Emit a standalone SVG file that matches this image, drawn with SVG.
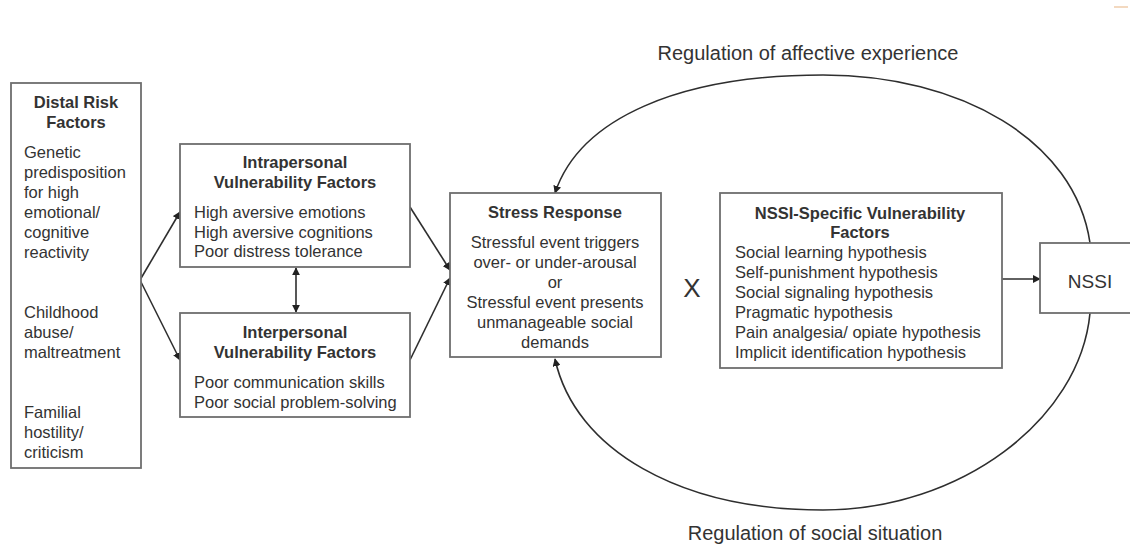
<svg xmlns="http://www.w3.org/2000/svg" width="1130" height="544" viewBox="0 0 1130 544">
<style>
.box{fill:#fff;stroke:#6e6e6e;stroke-width:1.8}
.t{font-family:"Liberation Sans",Arial,sans-serif;font-size:16.5px;fill:#333}
.b{font-weight:bold}
.c{text-anchor:middle}
.ln{fill:none;stroke:#2e2e2e;stroke-width:1.6}
</style>
<defs>
<marker id="ah" viewBox="0 0 10 10" refX="9" refY="5" markerWidth="8" markerHeight="8" markerUnits="userSpaceOnUse" orient="auto-start-reverse">
<path d="M0,0 L10,5 L0,10 z" fill="#222"/>
</marker>
</defs>
<rect width="1130" height="544" fill="#fff"/>
<line x1="1114" y1="7" x2="1128" y2="7" stroke="#f3d9c0" stroke-width="2"/>

<g id="connectors">
<line class="ln" x1="140" y1="280" x2="180" y2="212" marker-end="url(#ah)"/>
<line class="ln" x1="140" y1="280" x2="180" y2="360" marker-end="url(#ah)"/>
<line class="ln" x1="296" y1="268" x2="296" y2="312" marker-start="url(#ah)" marker-end="url(#ah)"/>
<line class="ln" x1="410" y1="207" x2="450" y2="270" marker-end="url(#ah)"/>
<line class="ln" x1="410" y1="360" x2="450" y2="278" marker-end="url(#ah)"/>
<line class="ln" x1="1002" y1="279" x2="1040" y2="279" marker-end="url(#ah)"/>
<path class="ln" d="M1090,243 C1075,140 960,75 823,75 C680,75 580,118 555,193" marker-end="url(#ah)"/>
<path class="ln" d="M1090,313 C1080,420 960,510 823,510 C680,510 575,450 555,359" marker-end="url(#ah)"/>
</g>

<g id="distal">
<rect class="box" x="11" y="83" width="130" height="385"/>
<text class="t b c" x="76" y="108">Distal Risk</text>
<text class="t b c" x="76" y="128">Factors</text>
<text class="t" x="24" y="158">Genetic</text>
<text class="t" x="24" y="178">predisposition</text>
<text class="t" x="24" y="198">for high</text>
<text class="t" x="24" y="218">emotional/</text>
<text class="t" x="24" y="238">cognitive</text>
<text class="t" x="24" y="258">reactivity</text>
<text class="t" x="24" y="318">Childhood</text>
<text class="t" x="24" y="338">abuse/</text>
<text class="t" x="24" y="358">maltreatment</text>
<text class="t" x="24" y="418">Familial</text>
<text class="t" x="24" y="438">hostility/</text>
<text class="t" x="24" y="458">criticism</text>
</g>

<g id="intrapersonal">
<rect class="box" x="180" y="144" width="230" height="123"/>
<text class="t b c" x="295" y="168">Intrapersonal</text>
<text class="t b c" x="295" y="188">Vulnerability Factors</text>
<text class="t" x="194" y="218">High aversive emotions</text>
<text class="t" x="194" y="238">High aversive cognitions</text>
<text class="t" x="194" y="257">Poor distress tolerance</text>
</g>

<g id="interpersonal">
<rect class="box" x="180" y="313" width="230" height="104"/>
<text class="t b c" x="295" y="338">Interpersonal</text>
<text class="t b c" x="295" y="358">Vulnerability Factors</text>
<text class="t" x="194" y="388">Poor communication skills</text>
<text class="t" x="194" y="408">Poor social problem-solving</text>
</g>

<g id="stress">
<rect class="box" x="450" y="193" width="211" height="164"/>
<text class="t b c" x="555" y="218">Stress Response</text>
<text class="t c" x="555" y="248">Stressful event triggers</text>
<text class="t c" x="555" y="268">over- or under-arousal</text>
<text class="t c" x="555" y="288">or</text>
<text class="t c" x="555" y="308">Stressful event presents</text>
<text class="t c" x="555" y="328">unmanageable social</text>
<text class="t c" x="555" y="348">demands</text>
</g>

<g id="times">
<text class="t c" x="692" y="297" style="font-size:26px">X</text>
</g>

<g id="nssi-specific">
<rect class="box" x="720" y="193" width="282" height="175"/>
<text class="t b c" x="860" y="219">NSSI-Specific Vulnerability</text>
<text class="t b c" x="860" y="238">Factors</text>
<text class="t" x="735" y="258">Social learning hypothesis</text>
<text class="t" x="735" y="278">Self-punishment hypothesis</text>
<text class="t" x="735" y="298">Social signaling hypothesis</text>
<text class="t" x="735" y="318">Pragmatic hypothesis</text>
<text class="t" x="735" y="338">Pain analgesia/ opiate hypothesis</text>
<text class="t" x="735" y="358">Implicit identification hypothesis</text>
</g>

<g id="nssi">
<rect class="box" x="1040" y="243" width="100" height="70"/>
<text class="t c" x="1090" y="288" style="font-size:19px">NSSI</text>
</g>

<g id="labels">
<text class="t c" x="808" y="60" style="font-size:20px">Regulation of affective experience</text>
<text class="t c" x="815" y="540" style="font-size:20px">Regulation of social situation</text>
</g>
</svg>
